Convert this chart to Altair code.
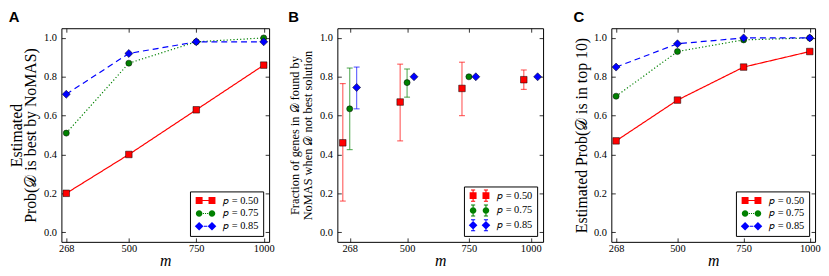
import altair as alt
import pandas as pd

# ---------------- data ----------------
m_vals = [268, 500, 750, 1000]
series = ["𝑝 = 0.50", "𝑝 = 0.75", "𝑝 = 0.85"]
colors = ["#ff0000", "#008000", "#0000ff"]

a_p50 = [0.20, 0.40, 0.63, 0.86]
a_p75 = [0.51, 0.87, 0.98, 1.00]
a_p85 = [0.71, 0.92, 0.98, 0.98]

c_p50 = [0.47, 0.68, 0.85, 0.93]
c_p75 = [0.70, 0.93, 0.99, 1.00]
c_p85 = [0.85, 0.97, 1.00, 1.00]

b_p50_mean = [0.46, 0.67, 0.74, 0.785]
b_p50_lo = [0.16, 0.47, 0.60, 0.735]
b_p50_hi = [0.765, 0.865, 0.875, 0.835]
b_p75_mean = [0.635, 0.77, 0.80, None]
b_p75_lo = [0.425, 0.695, 0.80, None]
b_p75_hi = [0.845, 0.84, 0.80, None]
b_p85_mean = [0.745, 0.80, 0.80, 0.80]
b_p85_lo = [0.635, 0.80, 0.80, 0.80]
b_p85_hi = [0.85, 0.80, 0.80, 0.80]

x_ticks = [268, 500, 750, 1000]
y_ticks = [0.0, 0.2, 0.4, 0.6, 0.8, 1.0]

SERIF = "Liberation Serif"
SANS = "Liberation Sans"
H = 216
Y_DOMAIN = [-0.05, 1.05]

# legend symbol paths (two markers joined by the series' line style)
sq = lambda cx: f"M{cx-1:.3f},-1H{cx+1:.3f}V1H{cx-1:.3f}Z"
ci = lambda cx, r=0.95: f"M{cx+r:.3f},0A{r},{r} 0 1,1 {cx-r:.3f},0A{r},{r} 0 1,1 {cx+r:.3f},0Z"
di = lambda cx, r=1.25: f"M{cx:.3f},{-r}L{cx+r:.3f},0L{cx:.3f},{r}L{cx-r:.3f},0Z"
rect = lambda x0, x1, h=0.15: f"M{x0:.3f},{-h}H{x1:.3f}V{h}H{x0:.3f}Z"
vrect = lambda cx, y0, y1, w=0.15: f"M{cx-w:.3f},{y0}H{cx+w:.3f}V{y1}H{cx-w:.3f}Z"
D = 3.714
line_paths = [
    sq(0) + sq(D) + rect(1, D - 1),
    ci(0) + ci(D) + rect(1.1, 1.4) + rect(1.7, 2.0) + rect(2.3, 2.6),
    di(0) + di(D) + rect(1.35, 2.35),
]


def eb(cx):
    return vrect(cx, -1.7, 1.7) + f"M{cx-0.6:.3f},-1.75H{cx+0.6:.3f}V-1.45H{cx-0.6:.3f}Z" + \
        f"M{cx-0.6:.3f},1.45H{cx+0.6:.3f}V1.75H{cx-0.6:.3f}Z"


err_paths = [
    eb(0) + sq(0) + eb(D) + sq(D),
    eb(0) + ci(0) + eb(D) + ci(D),
    eb(0) + di(0) + eb(D) + di(D),
]

shapes = ["square", "circle", "diamond"]
sizes = [44, 38, 66]
dashes = [[1, 0], [1.2, 2.2], [6, 4]]


def main_axes(xdomain, ytitle, ytitle_size, ytitle_pad, yline):
    x = dict(scale=alt.Scale(domain=xdomain, nice=False, zero=False),
             axis=alt.Axis(values=x_ticks, format="d", orient="bottom", offset=-4, tickSize=4,
                           labelPadding=2, title="m", titleFontStyle="italic",
                           titleFontSize=16, titlePadding=-2, labelFontSize=10.5))
    y = dict(scale=alt.Scale(domain=Y_DOMAIN, nice=False, zero=False),
             axis=alt.Axis(values=y_ticks, format=".1f", orient="left", offset=-4, tickSize=4,
                           labelPadding=5, title=ytitle, titleFontSize=ytitle_size,
                           titleLineHeight=yline, titlePadding=ytitle_pad, labelFontSize=10.5))
    return x, y


def legend_layer(df, xdomain, paths):
    leg = alt.Legend(title=None, orient="bottom-right", offset=6, padding=4,
                     strokeColor="black", fillColor="white", labelFont=SERIF,
                     labelFontSize=10.5, labelColor="black", symbolSize=49,
                     symbolStrokeWidth=0, symbolOpacity=1, labelOffset=19,
                     rowPadding=2, cornerRadius=0)
    return alt.Chart(df).transform_filter("false").mark_point(filled=True).encode(
        x=alt.X("m:Q", scale=alt.Scale(domain=xdomain, nice=False, zero=False),
                axis=alt.Axis(values=x_ticks, orient="top", offset=-4, tickSize=4,
                              labels=False, title=None)),
        y=alt.Y("val:Q", scale=alt.Scale(domain=Y_DOMAIN, nice=False, zero=False),
                axis=alt.Axis(values=y_ticks, orient="right", offset=-4, tickSize=4,
                              labels=False, title=None)),
        color=alt.Color("series:N", scale=alt.Scale(domain=series, range=colors), legend=leg),
        shape=alt.Shape("series:N", scale=alt.Scale(domain=series, range=paths), legend=leg),
    )


def panel_title(letter):
    return alt.TitleParams(letter, anchor="start", frame="bounds", font=SANS,
                           fontWeight="bold", fontSize=15, offset=3, color="black")


def line_panel(vals, letter, ytitle, ytitle_size, ytitle_pad, yline, width, xdomain):
    rows = []
    for s, vs in zip(series, vals):
        for m, v in zip(m_vals, vs):
            rows.append({"m": m, "val": v, "series": s})
    df = pd.DataFrame(rows)
    xa, ya = main_axes(xdomain, ytitle, ytitle_size, ytitle_pad, yline)
    layers = []
    for i, s in enumerate(series):
        d = df[df.series == s]
        layers.append(alt.Chart(d).mark_line(color=colors[i], strokeWidth=1.2,
                                             strokeDash=dashes[i]).encode(
            x=alt.X("m:Q", **xa), y=alt.Y("val:Q", **ya)))
    for i, s in enumerate(series):
        d = df[df.series == s]
        layers.append(alt.Chart(d).mark_point(shape=shapes[i], filled=True, fill=colors[i],
                                              stroke="black", strokeWidth=0.5, size=sizes[i],
                                              opacity=1).encode(
            x=alt.X("m:Q", **xa), y=alt.Y("val:Q", **ya)))
    inner = alt.layer(*layers)
    return alt.layer(legend_layer(df, xdomain, line_paths), inner).resolve_scale(
        x="independent", y="independent").properties(
        width=width, height=H, title=panel_title(letter))


def err_panel(width, xdomain):
    means = [b_p50_mean, b_p75_mean, b_p85_mean]
    los = [b_p50_lo, b_p75_lo, b_p85_lo]
    his = [b_p50_hi, b_p75_hi, b_p85_hi]
    rows = []
    for s, mv, lv, hv in zip(series, means, los, his):
        for m, a, b, c in zip(m_vals, mv, lv, hv):
            rows.append({"m": m, "val": a, "lo": b, "hi": c, "series": s})
    df = pd.DataFrame(rows)
    xa, ya = main_axes(xdomain, ["Fraction of genes in 𝒟 found by", "NoMAS when 𝒟 not best solution"],
                       12.5, 5, 13.5)
    dxs = [-7, 0, 7]
    layers = []
    for i, s in enumerate(series):
        d = df[(df.series == s) & df.val.notna()]
        base = alt.Chart(d)
        layers.append(base.mark_rule(color=colors[i], opacity=0.6, strokeWidth=1.2,
                                     xOffset=dxs[i]).encode(
            x=alt.X("m:Q", **xa), y=alt.Y("lo:Q", **ya), y2="hi:Q"))
        for f in ["lo", "hi"]:
            layers.append(base.mark_tick(color=colors[i], opacity=0.6, orient="horizontal",
                                         size=6, thickness=1.2, xOffset=dxs[i]).encode(
                x=alt.X("m:Q", **xa), y=alt.Y(f"{f}:Q", **ya)))
    for i, s in enumerate(series):
        d = df[(df.series == s) & df.val.notna()]
        layers.append(alt.Chart(d).mark_point(shape=shapes[i], filled=True, fill=colors[i],
                                              stroke="black", strokeWidth=0.5, size=sizes[i],
                                              opacity=1, xOffset=dxs[i]).encode(
            x=alt.X("m:Q", **xa), y=alt.Y("val:Q", **ya)))
    inner = alt.layer(*layers)
    return alt.layer(legend_layer(df, xdomain, err_paths), inner).resolve_scale(
        x="independent", y="independent").properties(
        width=width, height=H, title=panel_title("B"))


pA = line_panel([a_p50, a_p75, a_p85], "A", ["Estimated", "Prob(𝒟 is best by NoMAS)"], 16, 5, 14,
                210, [250, 1020])
pB = err_panel(208, [218, 1050])
pC = line_panel([c_p50, c_p75, c_p85], "C", "Estimated Prob(𝒟 is in top 10)", 16, 4, 15,
                206, [250, 1020])

chart = alt.hconcat(pA, pB, pC, spacing=69, bounds="flush", padding=0).resolve_scale(
    color="independent", shape="independent").configure(
    background="white",
    view=alt.ViewConfig(stroke="black", strokeWidth=1),
    axis=alt.AxisConfig(labelFont=SERIF, titleFont=SERIF, labelColor="black", titleColor="black",
                        tickColor="black", tickWidth=0.8, grid=False, domain=False,
                        titleFontWeight="normal"),
)

chart.save("out.html", embed_options={"renderer": "svg", "actions": False})
